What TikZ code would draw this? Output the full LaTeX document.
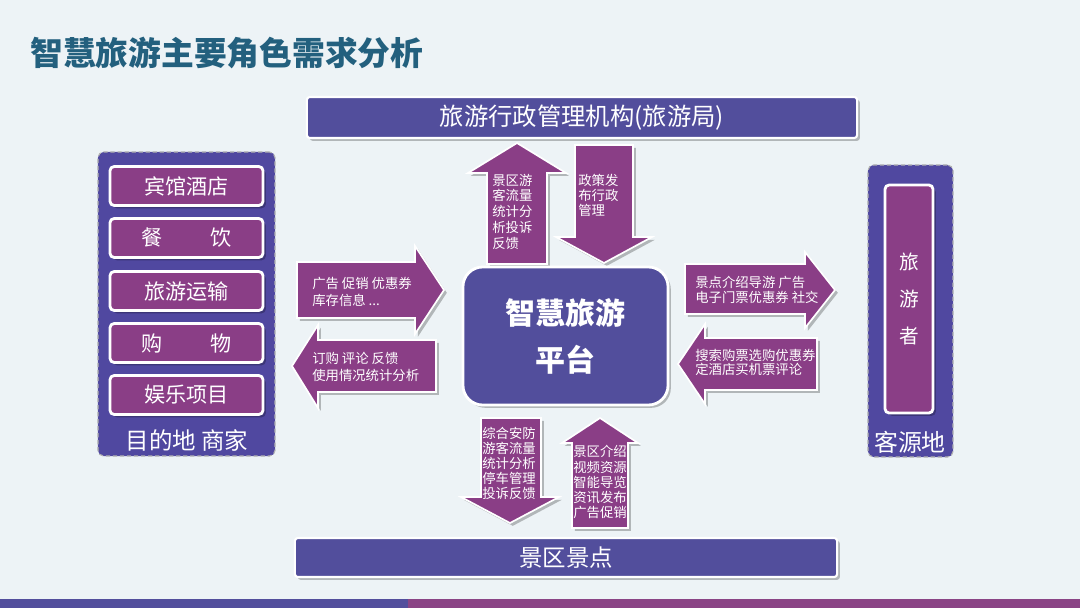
\documentclass[tikz,border=0pt]{standalone}
\usepackage{fontspec}
\setmainfont{Noto Sans CJK SC}
\usetikzlibrary{shadows}
\definecolor{PageBg}{HTML}{EDF3F6}
\definecolor{TitleTeal}{HTML}{23607E}
\definecolor{RoleBlue}{HTML}{524E9C}
\definecolor{RolePurple}{HTML}{8A3E86}
\definecolor{FrameBlue}{HTML}{5048A0}
\definecolor{BarPurple}{HTML}{8A4485}

\begin{document}
\begin{tikzpicture}[x=0.025cm,y=-0.025cm,
    softshadow/.style={drop shadow={shadow xshift=2pt,shadow yshift=-2pt,fill=black,opacity=.25}},
    rolebox/.style={fill=RoleBlue,draw=white,line width=1.5pt,rounded corners=2pt,softshadow,text=white,inner sep=0pt},
    itembox/.style={fill=RolePurple,draw=white,line width=2pt,rounded corners=3pt,softshadow,text=white,inner sep=0pt,
      minimum width=3.825cm,minimum height=0.975cm,font=\fontsize{15}{15}\selectfont},
    framebox/.style={fill=FrameBlue,draw=gray!60,densely dashed,line width=0.8pt,rounded corners=4pt},
    blockarrow/.style={fill=RolePurple,draw=white,line width=1.2pt,softshadow},
    arrowtext/.style={text=white,align=left,anchor=west,inner sep=0pt}]
  % page and bottom band
  \fill[PageBg] (0,0) rectangle (1080,608);
  \fill[RoleBlue] (0,599) rectangle (408,608);
  \fill[BarPurple] (408,599) rectangle (1080,608);
  \node[anchor=west,inner sep=0pt,text=TitleTeal,font=\fontsize{23.3}{24}\selectfont\bfseries] (title) at (30,53) {智慧旅游主要角色需求分析};

  % upper and lower boxes
  \node[rolebox,minimum width=13.75cm,minimum height=1.025cm,font=\fontsize{17.3}{18}\selectfont] (govbox) at (582,117.5) {旅游行政管理机构(旅游局)};
  \node[rolebox,minimum width=13.55cm,minimum height=0.975cm,font=\fontsize{16.7}{17}\selectfont] (spotbox) at (566,557.5) {景区景点};

  % destination merchants
  \node[framebox,minimum width=4.425cm,minimum height=7.6cm] (destframe) at (186.5,304) {};
  \node[itembox] (hotel) at (186.5,186) {宾馆酒店};
  \node[itembox] (dining) at (186.5,238) {餐\hspace{1.2cm}饮};
  \node[itembox] (transport) at (186.5,291) {旅游运输};
  \node[itembox] (shopping) at (186.5,343) {购\hspace{1.2cm}物};
  \node[itembox] (fun) at (186.5,395) {娱乐项目};
  \node[text=white,font=\fontsize{16.7}{17}\selectfont] (destlabel) at (187,440) {目的地 商家};

  % tourist origin
  \node[framebox,minimum width=2.125cm,minimum height=7.3cm] (originframe) at (910.5,311) {};
  \node[itembox,minimum width=1.2cm,minimum height=5.7cm,align=center,font=\fontsize{14}{26}\selectfont] (tourist) at (909,299) {旅\\游\\者};
  \node[text=white,font=\fontsize{17}{17}\selectfont] (originlabel) at (910,442) {客源地};

  % block arrows round the platform
  \draw[blockarrow] (517,143) -- (566,173) -- (547,173) -- (547,264) -- (487,264) -- (487,173) -- (468,173) -- cycle;
  \node[arrowtext,font=\fontsize{9.5}{11.2}\selectfont] (upgov) at (492,211.5) {景区游\\客流量\\统计分\\析投诉\\反馈};
  \draw[blockarrow] (575,145) -- (633,145) -- (633,237) -- (652,237) -- (604,263) -- (556,237) -- (575,237) -- cycle;
  \node[arrowtext,font=\fontsize{9.5}{10.7}\selectfont] (downgov) at (578,195) {政策发\\布行政\\管理};

  \draw[blockarrow] (297,262) -- (415,262) -- (415,246) -- (444,290) -- (415,334) -- (415,318) -- (297,318) -- cycle;
  \node[arrowtext,font=\fontsize{9.5}{12}\selectfont] (todest) at (312,291.5) {广告 促销 优惠券\\库存信息 ...};
  \draw[blockarrow] (292,366) -- (318,325) -- (318,340) -- (436,340) -- (436,392) -- (318,392) -- (318,408) -- cycle;
  \node[arrowtext,font=\fontsize{9.5}{12}\selectfont] (fromdest) at (312,366.5) {订购 评论 反馈\\使用情况统计分析};

  \draw[blockarrow] (685,264) -- (805,264) -- (805,252) -- (835,290) -- (805,328) -- (805,314) -- (685,314) -- cycle;
  \node[arrowtext,font=\fontsize{9.5}{10.7}\selectfont] (toorigin) at (695,289.5) {景点介绍导游 广告\\电子门票优惠券 社交};
  \draw[blockarrow] (678,364) -- (705,324) -- (705,338) -- (817,338) -- (817,390) -- (705,390) -- (705,404) -- cycle;
  \node[arrowtext,font=\fontsize{9.5}{10}\selectfont] (fromorigin) at (695,362) {搜索购票选购优惠券\\定酒店买机票评论};

  \draw[blockarrow] (481,418) -- (541,418) -- (541,497) -- (559,497) -- (510,523) -- (461,497) -- (481,497) -- cycle;
  \node[arrowtext,font=\fontsize{9.5}{10.7}\selectfont] (tospot) at (482,463) {综合安防\\游客流量\\统计分析\\停车管理\\投诉反馈};
  \draw[blockarrow] (600,418) -- (638,443) -- (628,443) -- (628,528) -- (572,528) -- (572,443) -- (562,443) -- cycle;
  \node[arrowtext,font=\fontsize{9.5}{10.7}\selectfont] (fromspot) at (573,482) {景区介绍\\视频资源\\智能导览\\资讯发布\\广告促销};

  % central platform
  \node[rolebox,rounded corners=14pt,line width=2pt,minimum width=5.125cm,minimum height=3.45cm,align=center,
    font=\fontsize{21.3}{33.4}\selectfont\bfseries] (platform) at (565.5,336) {智慧旅游\\平台};
\end{tikzpicture}
\end{document}
